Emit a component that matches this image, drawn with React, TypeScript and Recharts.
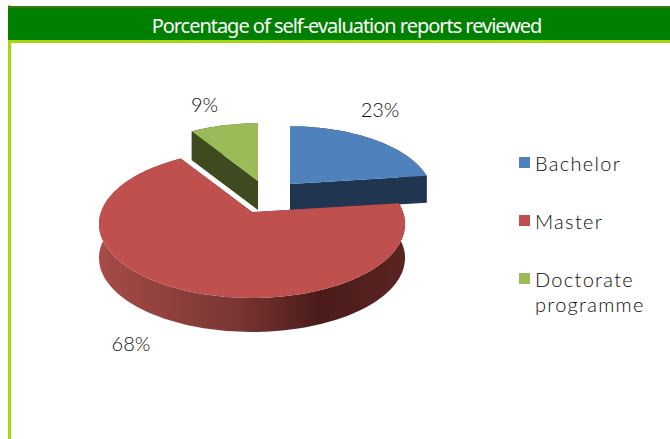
import { Legend, Pie, PieChart } from 'recharts'

const categories = ['Bachelor', 'Master', 'Doctorate programme']
const shares = [23, 68, 9]
const colors = ['#4f81bd', '#c0504d', '#9bbb59']
const wallColors = ['#1f3550', 'url(#masterWall)', '#3e4a20']

const data = categories.map((name, i) => ({ name, value: shares[i], fill: colors[i] }))

// how each slice sits in the drawing, by index
const explodeX = [38, 0, 6]
const explodeY = [-28, 0, -31]
const sliceScale = [0.93, 1, 0.93]
const wallDepth = [27, 34, 29]
const labelDx = [1, 0, -17]
const labelDy = [-27, 0, -17]

const FONT = 'Lato, sans-serif'
const TEXT = '#0d0d0d'
const TILT = 0.162
const FLATTEN = 72 / 151

// disc -> screen, the far side of the pie gets shorter
function project(cx: number, cy: number, r: number, deg: number) {
  const rad = (deg * Math.PI) / 180
  const u = Math.cos(rad)
  const v = Math.sin(rad)
  const w = 1 + TILT * v
  return { x: cx + (r * u) / w, y: cy - (r * FLATTEN * v) / w }
}

function rimPoints(cx: number, cy: number, r: number, start: number, end: number) {
  const steps = Math.max(8, Math.ceil(Math.abs(end - start) / 2))
  const pts = []
  for (let i = 0; i <= steps; i++) {
    pts.push(project(cx, cy, r, start + ((end - start) * i) / steps))
  }
  return pts
}

const toPath = (pts: { x: number; y: number }[]) =>
  'M' + pts.map((p) => `${p.x.toFixed(1)},${p.y.toFixed(1)}`).join('L') + 'Z'

function Slice(props: any) {
  const { cx, cy, outerRadius, startAngle, endAngle, index, fill } = props
  const x0 = cx + explodeX[index]
  const y0 = cy + explodeY[index]
  const r = outerRadius * sliceScale[index]
  const depth = wallDepth[index]
  const rim = rimPoints(x0, y0, r, startAngle, endAngle)
  const drop = (p: { x: number; y: number }) => ({ x: p.x, y: p.y + depth })
  const apex = { x: x0, y: y0 }
  const first = rim[0]
  const last = rim[rim.length - 1]
  const wall = wallColors[index]
  return (
    <g>
      <path d={toPath([...rim, ...rim.map(drop).reverse()])} fill={wall} />
      <path d={toPath([apex, first, drop(first), drop(apex)])} fill={wall} />
      <path d={toPath([apex, last, drop(last), drop(apex)])} fill={wall} />
      <path d={toPath([apex, ...rim])} fill={fill} />
    </g>
  )
}

function SliceLabel(props: any) {
  const { cx, cy, outerRadius, midAngle, index, value } = props
  const p = project(cx, cy, outerRadius, midAngle)
  const x = index === 1 ? 131 : p.x + explodeX[index] + labelDx[index]
  const y = index === 1 ? 343 : p.y + explodeY[index] + labelDy[index]
  return (
    <text x={x} y={y} textAnchor="middle" dominantBaseline="central" fontFamily={FONT} fontSize={20} fontWeight={300} fill={TEXT}>
      {value}%
    </text>
  )
}

function LegendList({ payload }: any) {
  return (
    <div style={{ fontFamily: FONT, fontSize: 20, fontWeight: 300, lineHeight: '25px', letterSpacing: 1.3, color: TEXT }}>
      {(payload || []).map((item: any) => (
        <div key={item.value} style={{ position: 'relative', paddingLeft: 16, marginBottom: 33, width: 136 }}>
          <span style={{ position: 'absolute', left: 0, top: 6, width: 11, height: 11, background: item.color }} />
          {item.value}
        </div>
      ))}
    </div>
  )
}

export default function App() {
  return (
    <div style={{ position: 'absolute', left: 0, top: 0, width: 670, height: 439, background: '#fff', overflow: 'hidden' }}>
      <div style={{ position: 'absolute', left: 8, top: 5, width: 3, bottom: 0, background: '#a6d60e' }} />
      <div
        style={{
          position: 'absolute',
          left: 8,
          top: 6,
          width: 662,
          height: 32,
          background: '#008000',
          borderTop: '2px solid #3f7a10',
          borderBottom: '3px solid #a6d60e',
          color: '#fff',
          fontFamily: '"Noto Sans", sans-serif',
          fontSize: 20,
          letterSpacing: -1.03,
          lineHeight: '36px',
          overflow: 'hidden',
          textIndent: 15,
          textAlign: 'center',
        }}
      >
        Porcentage of self-evaluation reports reviewed
      </div>
      <PieChart width={670} height={439} margin={{ top: 0, right: 0, bottom: 0, left: 0 }} style={{ position: 'absolute', left: 0, top: 0 }}>
        <defs>
          <linearGradient id="masterWall" x1="0" y1="0" x2="1" y2="0">
            <stop offset="0" stopColor="#a64b48" />
            <stop offset="0.45" stopColor="#7a3633" />
            <stop offset="0.72" stopColor="#4a1c1a" />
            <stop offset="1" stopColor="#5a2421" />
          </linearGradient>
        </defs>
        <Pie
          data={data}
          dataKey="value"
          nameKey="name"
          cx={252}
          cy={212}
          outerRadius={151}
          startAngle={90}
          endAngle={-270}
          stroke="none"
          shape={Slice}
          label={SliceLabel}
          labelLine={false}
          isAnimationActive={false}
        />
        <Legend
          layout="vertical"
          itemSorter={null}
          content={<LegendList />}
          wrapperStyle={{ position: 'absolute', left: 519, top: 151, width: 150 }}
        />
      </PieChart>
    </div>
  )
}
